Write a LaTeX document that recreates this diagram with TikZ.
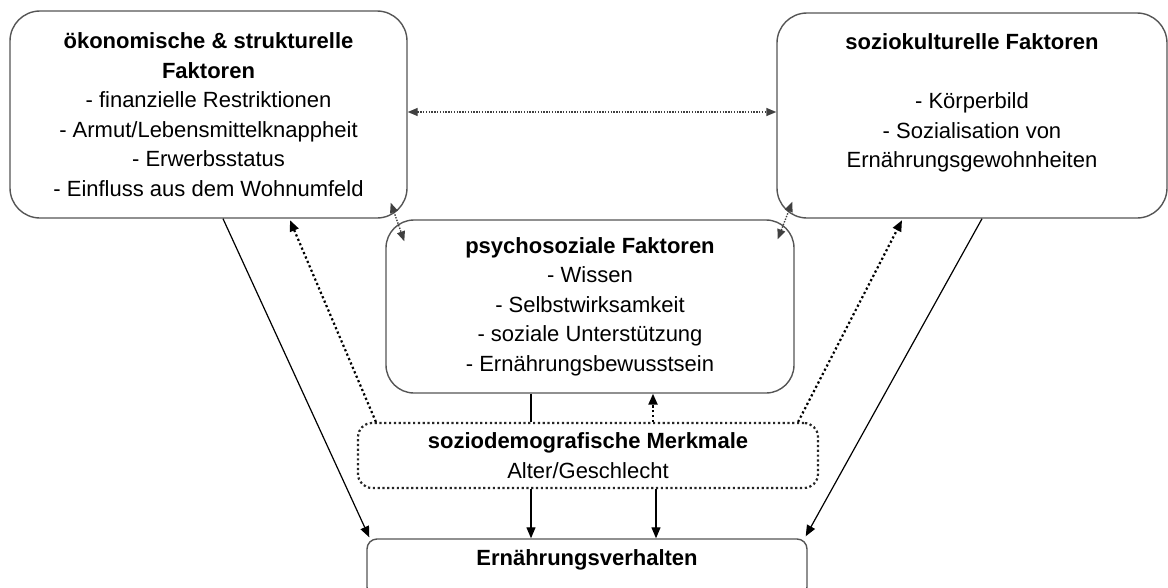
\documentclass[tikz,border=0pt]{standalone}
\usepackage{fontspec}
\setmainfont{Liberation Sans}
\usetikzlibrary{arrows.meta,calc}
\definecolor{boxgray}{HTML}{555555}
\begin{document}
\begin{tikzpicture}[x=1pt,y=-1pt,
  txt/.style={font=\fontsize{22}{29.5}\selectfont, align=center, text=black},
  box/.style={txt, draw=boxgray, line width=1.4pt, rounded corners=30pt, inner sep=0pt},
  arr/.style={-{Triangle[length=11pt,width=9pt]}, line width=1.2pt, draw=black},
  dotarr/.style={arr, line width=2.2pt, dash pattern=on 2.2pt off 2.6pt},
  thindot/.style={{Triangle[length=10pt,width=8pt]}-{Triangle[length=10pt,width=8pt]}, line width=1.4pt, dash pattern=on 1.4pt off 1.4pt, draw=black!75},
  plain/.style={line width=1.2pt, draw=black}
]
\useasboundingbox (0,0) rectangle (1168,587);
\clip (0,0) rectangle (1168,587);

\node[box, minimum width=397pt, minimum height=207pt] (leftbox) at (208.5,114.5)
  {\textbf{ökonomische \& strukturelle}\\\textbf{Faktoren}\\- finanzielle Restriktionen\\- Armut/Lebensmittelknappheit\\- Erwerbsstatus\\- Einfluss aus dem Wohnumfeld};

\node[box, minimum width=390pt, minimum height=205pt] (rightbox) at (972,115.5)
  {\textbf{soziokulturelle Faktoren}\\[29.5pt]- Körperbild\\- Sozialisation von\\Ernährungsgewohnheiten\\\rule{0pt}{0pt}};

\node[box, rounded corners=28pt, minimum width=408pt, minimum height=173pt] (psycho) at (590,306.5)
  {\textbf{psychosoziale Faktoren}\\- Wissen\\- Selbstwirksamkeit\\- soziale Unterstützung\\- Ernährungsbewusstsein};

\node[box, draw=black!85, rounded corners=14pt, line width=2.2pt, dash pattern=on 2.2pt off 2.6pt,
      minimum width=460pt, minimum height=65pt] (sozio) at (588,455.5)
  {\textbf{soziodemografische Merkmale}\\Alter/Geschlecht};

\node[box, rounded corners=10pt, anchor=base, text height=16pt, text depth=22pt, inner ysep=10pt,
      minimum width=440pt] (bottom) at (587,565) {\textbf{Ernährungsverhalten}};

\coordinate (hy) at (0,112);
\coordinate (xa) at (531,0);
\coordinate (xb) at (656,0);
\coordinate (xc) at (653,0);

\draw[thindot] (leftbox.east |- hy) -- (rightbox.west |- hy);
\draw[thindot] ($(leftbox.south east)+(-17,-16)$) -- ($(psycho.north west)+(19,22)$);
\draw[thindot] ($(rightbox.south west)+(16,-17)$) -- ($(psycho.north east)+(-17,20)$);

\draw[arr] ($(leftbox.south)+(14.5,0)$) -- ($(bottom.north west)+(3,-1)$);
\draw[arr] ($(rightbox.south)+(10,0)$) -- ($(bottom.north east)+(-2,-2)$);

\draw[dotarr] ($(sozio.north west)+(19,0)$) -- ($(leftbox.south)+(81.5,1.5)$);
\draw[dotarr] ($(sozio.north east)+(-21,0)$) -- ($(rightbox.south)+(-70,1.5)$);

\draw[plain] (psycho.south -| xa) -- (sozio.north -| xa);
\draw[dotarr] (sozio.north -| xc) -- (psycho.south -| xc);
\draw[arr] (sozio.south -| xa) -- (bottom.north -| xa);
\draw[arr] (sozio.south -| xb) -- (bottom.north -| xb);
\end{tikzpicture}
\end{document}
